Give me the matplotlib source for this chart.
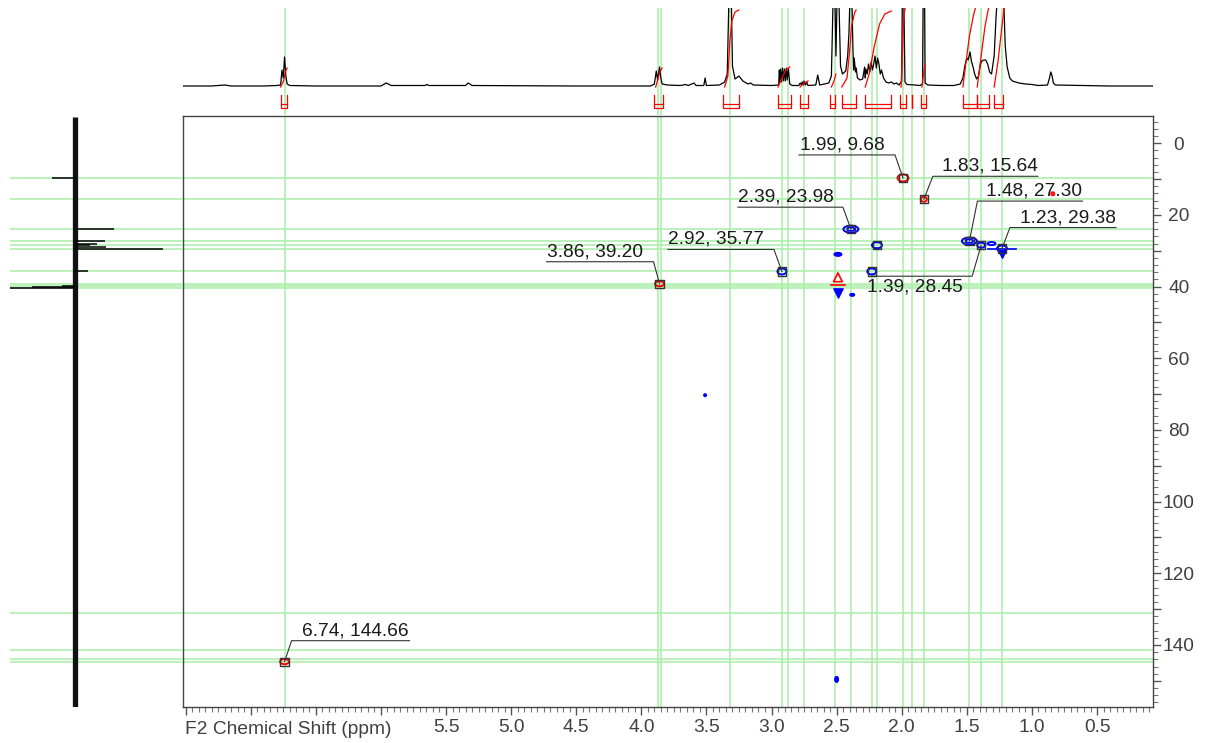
import numpy as np
import matplotlib
matplotlib.use('Agg')
import matplotlib.pyplot as plt
from matplotlib.patches import Ellipse
from matplotlib.ticker import MultipleLocator, FixedLocator

plt.rcParams['font.family'] = ['Liberation Sans', 'DejaVu Sans']

# ---------------------------------------------------------------------------
# data
# ---------------------------------------------------------------------------
# F2 (1H) positions of the green guide lines, ppm
H_LINES = [6.74, 3.87, 3.85, 3.32, 2.92, 2.87, 2.75, 2.51, 2.39, 2.23, 2.19,
           1.99, 1.92, 1.83, 1.48, 1.39, 1.23]
# F1 (13C) positions of the green guide lines, ppm
C_LINES = [9.68, 15.64, 23.98, 27.30, 28.45, 29.38, 35.77, 39.20, 39.9, 40.5,
           131.1, 141.5, 144.0, 144.66]

# labelled cross peaks
PK_H = [6.74, 3.86, 2.92, 2.39, 1.99, 1.83, 1.48, 1.39, 1.23]
PK_C = [144.66, 39.20, 35.77, 23.98, 9.68, 15.64, 27.30, 28.45, 29.38]
# picked but unlabelled peaks
EXTRA_H = [2.19, 2.23]
EXTRA_C = [28.45, 35.77]

# contour blobs (blue = negative phase, red = positive phase)
BLUE_H = [2.39, 1.48, 2.19, 2.92, 2.23, 1.39, 1.23, 1.31, 2.49, 2.38, 2.50, 3.51]
BLUE_C = [23.98, 27.30, 28.45, 35.77, 35.77, 28.45, 29.38, 28.0, 31.0, 42.3, 149.6, 70.3]
RED_H = [1.99, 6.74, 3.86, 1.83, 0.84]
RED_C = [9.68, 144.66, 39.20, 15.64, 14.1]
# blob sizes in pixels (w, h)
BLUE_SZ = [(15, 7), (15, 7), (10, 6), (9, 6), (9, 6), (8, 5), (10, 6), (8, 3),
           (7, 3), (4, 2), (3, 5), (2, 2)]
RED_SZ = [(11, 7), (9, 5), (9, 5), (6, 5), (3, 3)]

# 1D proton trace on top (ppm, height above baseline)
TOP_PPM = [7.52, 7.30, 7.20, 7.15, 6.90, 6.80, 6.77, 6.76, 6.75, 6.74, 6.73, 6.72,
           6.70, 6.50, 6.00, 5.96, 5.92, 5.66, 5.65, 5.63, 5.35, 5.33, 5.30, 4.50,
           3.93, 3.90, 3.885, 3.875, 3.86, 3.85, 3.84, 3.80, 3.70, 3.66, 3.64,
           3.595, 3.58, 3.52, 3.51, 3.50, 3.40, 3.36, 3.34, 3.325, 3.31, 3.30,
           3.28, 3.25, 3.22, 3.18, 3.16, 3.14, 3.00, 2.945, 2.94, 2.935, 2.93,
           2.925, 2.915, 2.91, 2.90, 2.895, 2.885, 2.88, 2.87, 2.86, 2.84, 2.79,
           2.78, 2.77, 2.765, 2.755, 2.75, 2.74, 2.73, 2.72, 2.66, 2.645, 2.63,
           2.56, 2.54, 2.525, 2.515, 2.505, 2.495, 2.485, 2.47, 2.455, 2.43,
           2.415, 2.405, 2.395, 2.385, 2.375, 2.37, 2.365, 2.355, 2.35, 2.34,
           2.32, 2.30, 2.285, 2.28, 2.275, 2.265, 2.255, 2.245, 2.235, 2.225,
           2.215, 2.205, 2.195, 2.185, 2.175, 2.165, 2.155, 2.14, 2.12, 2.10,
           2.08, 2.06, 2.04, 2.02, 2.00, 1.995, 1.985, 1.975, 1.96, 1.90, 1.86,
           1.84, 1.835, 1.825, 1.82, 1.80, 1.70, 1.60, 1.55, 1.53, 1.515, 1.50,
           1.49, 1.475, 1.465, 1.45, 1.44, 1.425, 1.41, 1.395, 1.385, 1.37,
           1.355, 1.34, 1.325, 1.31, 1.29, 1.275, 1.26, 1.235, 1.22, 1.205,
           1.19, 1.17, 1.15, 1.10, 1.05, 1.00, 0.95, 0.88, 0.865, 0.855, 0.845,
           0.835, 0.82, 0.60, 0.40, 0.07]
TOP_INT = [0, 0, 1, 0, 0, 0.5, 1, 16, 8, 29, 10, 2,
           0.5, 0, 0, 3, 0.5, 0.5, 1.5, 0.5, 0.5, 3, 0.5, 0,
           0, 2, 15, 6, 19, 8, 2, 1, 0.5, 1.5, 0.5,
           3, 0.5, 0.5, 8, 0.5, 1, 4, 12, 100, 100, 20,
           7, 10, 5, 2, 3, 1, 0.5, 1, 16, 4, 17,
           4, 18, 5, 17, 5, 18, 6, 17, 2, 0.5, 0.5,
           3, 1, 4, 1, 5, 1, 4, 0.5, 1, 11, 1,
           3, 10, 100, 100, 30, 100, 100, 20, 12, 15,
           30, 53, 100, 100, 40, 16, 28, 14, 18, 8,
           6, 7, 19, 8, 17, 12, 22, 14, 24, 16,
           22, 30, 18, 28, 22, 12, 16, 8, 4, 3,
           4, 2, 3, 1, 5, 100, 100, 4, 1.5, 1, 0.5,
           2, 100, 100, 3, 1, 0.5, 0.5, 2, 8, 20, 28,
           26, 34, 25, 18, 12, 7, 10, 22, 25, 26,
           26, 22, 14, 12, 30, 70, 100, 100, 100, 40,
           19, 8, 5, 3, 2, 1.5, 0.5, 1, 8, 14, 10,
           3, 1, 0.5, 0, 0]

# integral curves (ppm, height)
INTEGRALS = [
    ([6.77, 6.745, 6.735, 6.72], [-1, 6, 14, 18]),
    ([3.89, 3.87, 3.855, 3.84], [-1, 8, 15, 18]),
    ([3.36, 3.335, 3.32, 3.305, 3.28, 3.25], [-1, 10, 45, 65, 74, 76]),
    ([2.95, 2.92, 2.89, 2.86], [-1, 8, 16, 19]),
    ([2.78, 2.75, 2.72], [-1, 3, 5]),
    ([2.54, 2.52, 2.505], [-1, 5, 12]),
    ([2.46, 2.42, 2.40, 2.385, 2.36, 2.35], [-1, 8, 35, 60, 74, 76]),
    ([2.28, 2.25, 2.21, 2.17, 2.13, 2.08], [-1, 12, 40, 62, 72, 75]),
    ([2.005, 1.995, 1.985, 1.97], [-1, 30, 70, 80]),
    ([1.845, 1.835, 1.82], [-1, 10, 22]),
    ([1.53, 1.51, 1.48, 1.45, 1.43], [-1, 20, 50, 70, 80]),
    ([1.42, 1.39, 1.36, 1.33], [-1, 30, 60, 80]),
    ([1.29, 1.26, 1.23, 1.21], [-1, 25, 60, 82]),
]
# integration brackets (start, end), ppm
BR_START = [6.77, 3.90, 3.37, 2.95, 2.78, 2.55, 2.46, 2.28, 2.01, 1.92, 1.85, 1.53, 1.42, 1.29]
BR_END = [6.72, 3.83, 3.25, 2.85, 2.72, 2.515, 2.35, 2.08, 1.97, 1.92, 1.81, 1.42, 1.33, 1.22]

# 1D carbon projection on the left (ppm, intensity)
LEFT_C = [9.68, 23.98, 27.30, 28.0, 28.45, 29.0, 29.38, 35.77, 39.8, 40.1, 40.4]
LEFT_INT = [-23, 39, 30, 22, 15, 31, 88, 13, -13, -43, -65]

# ---------------------------------------------------------------------------
# layout
# ---------------------------------------------------------------------------
W, H = 1215, 743
X_LIM = (7.52, 0.07)
Y_LIM = (157.3, -7.6)
GREEN = '#a8eea8'
TXT = '#404040'
FS = 13.8

fig = plt.figure(figsize=(W / 100, H / 100), dpi=100)
ax = fig.add_axes([183 / W, 1 - 707 / H, 970 / W, 591 / H])
ax_t = fig.add_axes([183 / W, 1 - 115 / H, 970 / W, 107 / H])
ax_l = fig.add_axes([10 / W, 1 - 707 / H, 173 / W, 591 / H])

ax.set_xlim(*X_LIM)
ax.set_ylim(*Y_LIM)
ax_t.set_xlim(*X_LIM)
ax_t.set_ylim(-29, 78)
ax_l.set_xlim(-65, 108)
ax_l.set_ylim(*Y_LIM)
for a in (ax_t, ax_l):
    a.axis('off')

px_x = 970 / (X_LIM[0] - X_LIM[1])
px_y = 591 / (Y_LIM[0] - Y_LIM[1])

# guide lines
for h in H_LINES:
    ax.axvline(h, color=GREEN, lw=1.1, zorder=1)
    ax_t.axvline(h, color=GREEN, lw=1.1, zorder=1)
for c in C_LINES:
    ax.axhline(c, color=GREEN, lw=1.1, zorder=1)
    ax_l.axhline(c, color=GREEN, lw=1.1, zorder=1)

# top 1D spectrum
ax_t.plot(TOP_PPM, TOP_INT, color='black', lw=0.9, zorder=3)
for xs, ys in INTEGRALS:
    ax_t.plot(xs, ys, color='red', lw=0.9, zorder=4)
for s, e in zip(BR_START, BR_END):
    ax_t.plot([s, s, e, e], [-9, -22, -22, -9], color='red', lw=0.9, zorder=4)
    ax_t.plot([s, e], [-18, -18], color='red', lw=0.9, zorder=4)

# left 1D projection (noise band + signals)
ax_l.plot([0, 0], [-7.3, 157.3], color='#111111', lw=3.8, solid_capstyle='butt', zorder=3)
ax_l.hlines(LEFT_C, 0, LEFT_INT, color='black', lw=1.1, zorder=3)

# contours
for h, c, (w, hh) in zip(BLUE_H, BLUE_C, BLUE_SZ):
    ax.add_patch(Ellipse((h, c), w / px_x, hh / px_y, fc='none', ec='#0000ff', lw=1.4, zorder=3))
    if w >= 14:
        ax.add_patch(Ellipse((h, c), w / 2 / px_x, hh / 2 / px_y, fc='none', ec='#0000ff', lw=1.2, zorder=3))
    if w <= 7:
        ax.add_patch(Ellipse((h, c), w / px_x, hh / px_y, fc='#0000ff', ec='#0000ff', lw=0.8, zorder=3))
for h, c, (w, hh) in zip(RED_H, RED_C, RED_SZ):
    ax.add_patch(Ellipse((h, c), w / px_x, hh / px_y, fc='none', ec='#ff0000', lw=1.4, zorder=3))
# artefacts around the solvent column
ax.plot([1.23 + 14 / px_x, 1.23 - 14 / px_x], [29.38, 29.38], color='#0000ff', lw=1.2, zorder=3)
ax.scatter([1.23], [31.0], marker='v', s=30, color='#0000ff', zorder=3)
ax.scatter([2.49], [41.8], marker='v', s=45, color='#0000ff', zorder=3)
ax.scatter([2.49], [37.4], marker='^', s=40, facecolors='none', edgecolors='#ff0000', lw=1.2, zorder=3)
ax.plot([2.49 + 7 / px_x, 2.49 - 7 / px_x], [39.5, 39.5], color='#ff0000', lw=1.2, zorder=3)

# peak markers
ax.scatter(PK_H + EXTRA_H, PK_C + EXTRA_C, marker='s', s=36, facecolors='none',
           edgecolors='#333333', lw=1.0, zorder=5)

# leader labels: elbow offset (px), line length (px), text shift (px), text below line
LABEL_OFF = [(7, 21, 118, 10, False), (-6, 22, -107, 0, False), (-8, 22, -106, 0, False),
             (-8, 22, -105, 0, False), (-8, 23, -96, 1, False), (9, 23, 105, 9, False),
             (8, 40, 105, 9, False), (-9, -31, -101, -4, True), (8, 21, 106, 10, False)]

inv = ax.transData.inverted()
for h, c, (ex, ey, lx, tx, below) in zip(PK_H, PK_C, LABEL_OFF):
    px, py = ax.transData.transform((h, c))
    pts = inv.transform([(px, py), (px + ex, py + ey), (px + ex + lx, py + ey)])
    ax.plot(pts[:, 0], pts[:, 1], color='#333333', lw=0.8, zorder=4)
    left = min(px + ex, px + ex + lx) + tx
    ty = py + ey - 2 if below else py + ey + 5.5
    tp = inv.transform((left, ty))
    ax.text(tp[0], tp[1], f'{h:.2f}, {c:.2f}', fontsize=FS, color='#1a1a1a',
            ha='left', va='top' if below else 'baseline', zorder=6)

# axes styling
for sp in ax.spines.values():
    sp.set_color('#444444')
    sp.set_linewidth(1.0)

ax.xaxis.set_major_locator(FixedLocator(np.arange(0.5, 7.51, 0.5)))
ax.xaxis.set_minor_locator(MultipleLocator(0.05))
ax.set_xticklabels([f'{v:.1f}' if v <= 5.5 else '' for v in np.arange(0.5, 7.51, 0.5)])
ax.tick_params(axis='x', which='major', length=6, width=1, color='#555555',
               labelsize=FS, labelcolor=TXT, pad=3)
ax.tick_params(axis='x', which='minor', length=3.5, width=0.8, color='#777777')

ax.yaxis.tick_right()
ax.yaxis.set_major_locator(FixedLocator(np.arange(0, 151, 10)))
ax.yaxis.set_minor_locator(MultipleLocator(2))
ax.set_yticklabels([f'{v:d}' if v % 20 == 0 else '' for v in np.arange(0, 151, 10)])
ax.tick_params(axis='y', which='major', length=6, width=1, color='#555555',
               labelsize=FS, labelcolor=TXT, pad=12.5)
ax.tick_params(axis='y', which='minor', length=3.5, width=0.8, color='#777777')
plt.setp(ax.get_yticklabels(), ha='center')

ax.text(0.002, -(729 - 707) / 591, 'F2 Chemical Shift (ppm)', transform=ax.transAxes,
        fontsize=FS, color=TXT, ha='left', va='center')

fig.savefig('out.png', dpi=100)
